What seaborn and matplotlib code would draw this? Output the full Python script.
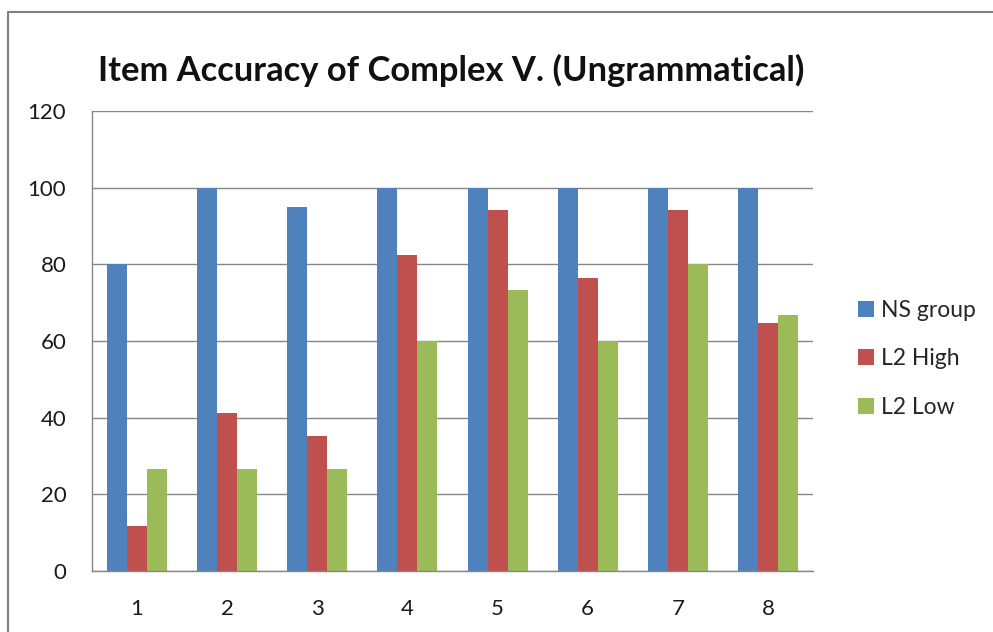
import matplotlib
matplotlib.use("Agg")
import matplotlib.pyplot as plt
import seaborn as sns
import pandas as pd
from matplotlib.lines import Line2D

items = ["1", "2", "3", "4", "5", "6", "7", "8"]
groups = ["NS group", "L2 High", "L2 Low"]
ns_group = [80, 100, 95, 100, 100, 100, 100, 100]
l2_high = [11.76, 41.18, 35.29, 82.35, 94.12, 76.47, 94.12, 64.71]
l2_low = [26.67, 26.67, 26.67, 60, 73.33, 60, 80, 66.67]
colors = ["#4F81BD", "#C0504D", "#9BBB59"]
yticks = [0, 20, 40, 60, 80, 100, 120]

rows = []
for g, vals in zip(groups, [ns_group, l2_high, l2_low]):
    for it, v in zip(items, vals):
        rows.append({"Item": it, "Group": g, "Value": v})
df = pd.DataFrame(rows)

sns.set_theme(style="white")
plt.rcParams["font.family"] = ["Lato", "DejaVu Sans"]

fig = plt.figure(figsize=(9.93, 6.32), dpi=100)
ax = fig.add_axes([92/993, 1-571/632, (813-92)/993, (571-111)/632])

sns.barplot(data=df, x="Item", y="Value", hue="Group", order=items,
            hue_order=groups, palette=colors, width=0.667, gap=0,
            saturation=1, ax=ax, legend=True, edgecolor="none", linewidth=0)

ax.set_ylim(0, 120)
ax.set_yticks(yticks)
ax.set_xlim(-0.5, 7.5)
ax.yaxis.grid(True, color="#868686", linewidth=1)
ax.set_axisbelow(True)
for s in ["top", "right"]:
    ax.spines[s].set_visible(False)
for s in ["left", "bottom"]:
    ax.spines[s].set_color("#868686")
    ax.spines[s].set_linewidth(1)
ax.set_xlabel("")
ax.set_ylabel("")
ax.tick_params(axis="y", length=0, pad=18.5, labelsize=16, labelcolor="#1a1a1a")
ax.tick_params(axis="x", length=0, pad=20, labelsize=16, labelcolor="#1a1a1a")

leg = ax.legend(loc="center left", bbox_to_anchor=(1.047, 0.461), frameon=False,
                fontsize=16.5, handlelength=0.7, handleheight=0.7, borderpad=0,
                handletextpad=0.3, labelspacing=1.2)

fig.text(451/993, 1-70/632, "Item Accuracy of Complex V. (Ungrammatical)",
         ha="center", va="center", fontsize=24.8, fontweight="bold", color="#111111")

fig.add_artist(Line2D([8/993, 8/993, 1.0], [0.0, 1-12/632, 1-12/632],
                      transform=fig.transFigure, color="#7f7f7f", linewidth=1.5))

fig.savefig("out.png", dpi=100)
